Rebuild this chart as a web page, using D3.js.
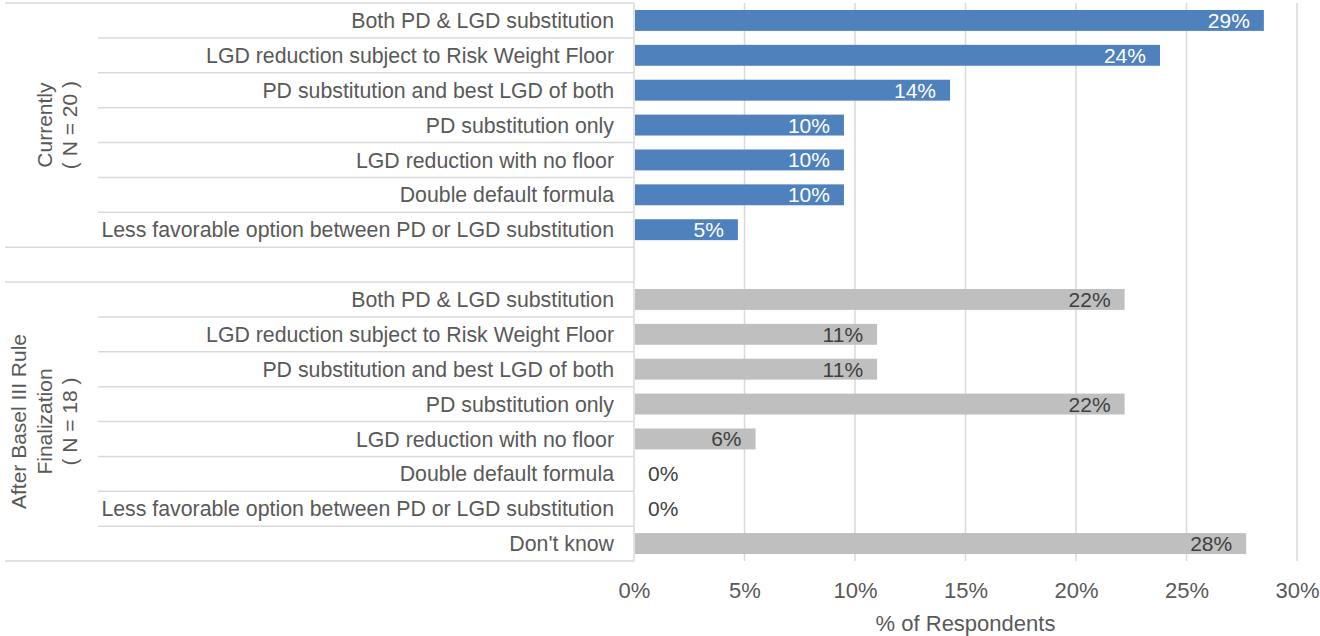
<!DOCTYPE html>
<html><head><meta charset="utf-8">
<script src="https://cdn.jsdelivr.net/npm/d3@7"></script>
<style>body{margin:0;background:#fff}svg text{font-family:"Liberation Sans",Arial,sans-serif}</style>
</head><body><svg id="c" width="1320" height="636"></svg>
<script>
const currentCategories = ["Both PD & LGD substitution","LGD reduction subject to Risk Weight Floor","PD substitution and best LGD of both","PD substitution only","LGD reduction with no floor","Double default formula","Less favorable option between PD or LGD substitution"];
const currentValues = [28.5, 23.8, 14.3, 9.5, 9.5, 9.5, 4.7];
const afterCategories = ["Both PD & LGD substitution","LGD reduction subject to Risk Weight Floor","PD substitution and best LGD of both","PD substitution only","LGD reduction with no floor","Double default formula","Less favorable option between PD or LGD substitution","Don't know"];
const afterValues = [22.2, 11.0, 11.0, 22.2, 5.5, 0, 0, 27.7];
const groupLabels = [["Currently","( N = 20 )"],["After Basel III Rule","Finalization","( N = 18 )"]];
const tickValues = [0,5,10,15,20,25,30];
const axisTitle = "% of Respondents";

const svg = d3.select("#c");
const rows = [];
currentCategories.forEach((c,i)=>rows.push({key:"a"+i,cat:c,v:currentValues[i],g:0}));
rows.push({key:"gap",cat:"",v:null,g:-1});
afterCategories.forEach((c,i)=>rows.push({key:"b"+i,cat:c,v:afterValues[i],g:1}));

const x = d3.scaleLinear().domain([0,30]).range([634,1297]);
const y = d3.scaleBand().domain(rows.map(r=>r.key)).range([3,561]).paddingInner(0.4).paddingOuter(0.2);
const step = y.step();
const lineCol = "#d9d9d9", textCol = "#595959";

// gridlines
svg.append("g").selectAll("line").data(tickValues.slice(1)).join("line")
  .attr("x1",d=>x(d)).attr("x2",d=>x(d)).attr("y1",3).attr("y2",561)
  .attr("stroke",lineCol).attr("stroke-width",1.5);

// horizontal category lines
const lines = svg.append("g");
rows.forEach((r,i)=>{
  const yy = 3 + i*step;
  const full = (i===0 || r.key==="gap" || (rows[i-1] && rows[i-1].key==="gap"));
  lines.append("line").attr("x1",full?5:98).attr("x2",634).attr("y1",yy).attr("y2",yy).attr("stroke",lineCol).attr("stroke-width",1.5);
});
lines.append("line").attr("x1",5).attr("x2",634).attr("y1",561).attr("y2",561).attr("stroke",lineCol).attr("stroke-width",1.5);
lines.append("line").attr("x1",634).attr("x2",634).attr("y1",3).attr("y2",561).attr("stroke",lineCol).attr("stroke-width",1.5);

// bars
const data = rows.filter(r=>r.v!==null);
svg.append("g").selectAll("rect").data(data).join("rect")
  .attr("x",x(0)+1).attr("y",d=>y(d.key)).attr("height",y.bandwidth())
  .attr("width",d=>Math.max(0,x(d.v)-x(0)-1))
  .attr("fill",d=>d.g===0?"#4f81bd":"#bfbfbf");

// value labels
svg.append("g").selectAll("text").data(data).join("text")
  .attr("x",d=>d.v>0? x(d.v)-14 : x(0)+14)
  .attr("text-anchor",d=>d.v>0?"end":"start")
  .attr("y",d=>y(d.key)+y.bandwidth()/2).attr("dy","0.36em")
  .attr("font-size",21)
  .attr("fill",d=>d.g===0?"#ffffff":"#404040")
  .text(d=>d3.format(".0f")(d.v)+"%");

// category labels
svg.append("g").selectAll("text").data(data).join("text")
  .attr("x",614).attr("text-anchor","end")
  .attr("y",d=>y(d.key)+y.bandwidth()/2).attr("dy","0.36em")
  .attr("font-size",21.3).attr("fill",textCol).text(d=>d.cat);

// group labels
const groupSpans = [[3, 3+7*step],[3+8*step, 561]];
groupLabels.forEach((lbls,gi)=>{
  const cy = (groupSpans[gi][0]+groupSpans[gi][1])/2;
  const n = lbls.length, lh = 25.5;
  const cx0 = gi===0 ? 57 : 44;
  lbls.forEach((t,li)=>{
    const cx = cx0 + (li-(n-1)/2)*lh;
    svg.append("text").attr("transform",`translate(${cx},${cy}) rotate(-90)`)
      .attr("text-anchor","middle").attr("dy","0.36em").attr("font-size",21)
      .attr("fill",textCol).text(t);
  });
});

// x axis tick labels
const ax = d3.axisBottom(x).tickValues(tickValues).tickFormat(d=>d+"%").tickSize(0).tickPadding(0);
const axg = svg.append("g").attr("transform","translate(0,590)").call(ax);
axg.select(".domain").remove();
axg.selectAll("text").attr("font-size",22).attr("fill",textCol).attr("dy","0.36em").attr("y",0);

svg.append("text").attr("x",(x(0)+x(30))/2).attr("y",623).attr("dy","0.36em")
  .attr("text-anchor","middle").attr("font-size",22).attr("fill",textCol).text(axisTitle);
</script></body></html>
